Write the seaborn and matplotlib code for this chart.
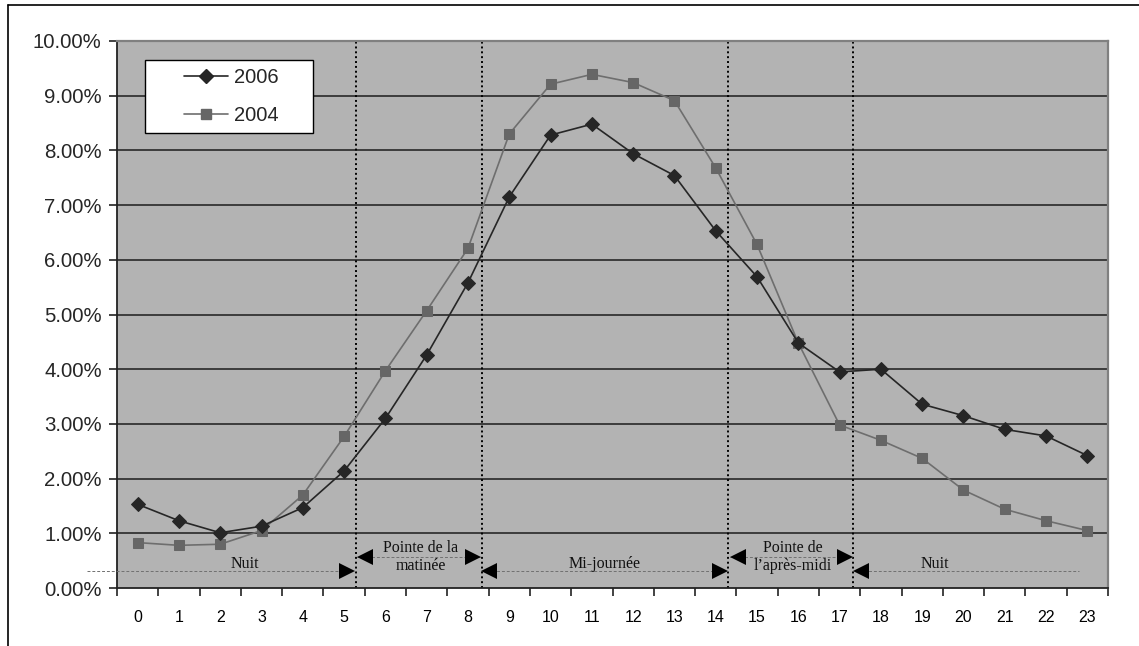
import matplotlib
matplotlib.use("Agg")
import matplotlib.pyplot as plt
from matplotlib.lines import Line2D
from matplotlib.patches import Rectangle
import numpy as np
import pandas as pd
import seaborn as sns

hours = list(range(24))
hour_labels = [str(h) for h in hours]
y2006 = [1.53, 1.23, 1.01, 1.13, 1.47, 2.14, 3.10, 4.26, 5.58, 7.15, 8.28, 8.48,
         7.94, 7.54, 6.53, 5.69, 4.48, 3.95, 4.00, 3.36, 3.15, 2.90, 2.78, 2.42]
y2004 = [0.83, 0.78, 0.80, 1.05, 1.70, 2.77, 3.97, 5.07, 6.21, 8.30, 9.21, 9.39,
         9.24, 8.91, 7.68, 6.28, 4.48, 2.98, 2.70, 2.37, 1.79, 1.44, 1.23, 1.05]
yticks = [0, 1, 2, 3, 4, 5, 6, 7, 8, 9, 10]
ytick_labels = [f"{v:.2f}%" for v in yticks]
period_bounds = [5.3, 8.33, 14.3, 17.32]

sns.set_theme(style="white")
plt.rcParams['font.family'] = ['Liberation Sans', 'DejaVu Sans']

W, H = 1139, 646
fig = plt.figure(figsize=(W / 100, H / 100), dpi=100)
ax = fig.add_axes([117 / W, (H - 588) / H, (1108 - 117) / W, (588 - 41) / H])
ax.set_facecolor('#b3b3b3')

df = pd.DataFrame({'hour': hours * 2,
                   'val': y2006 + y2004,
                   'year': ['2006'] * 24 + ['2004'] * 24})

c06, c04 = '#262626', '#6e6e6e'
sns.lineplot(data=df[df.year == '2006'], x='hour', y='val', ax=ax, color=c06,
             marker='D', markersize=7.3, markeredgecolor=c06, linewidth=1.2,
             zorder=5, legend=False)
sns.lineplot(data=df[df.year == '2004'], x='hour', y='val', ax=ax, color=c04,
             marker='s', markersize=7, markeredgecolor='#666666',
             markerfacecolor='#666666', linewidth=1.2, zorder=4, legend=False)

ax.set_xlim(-0.5, 23.5)
ax.set_ylim(0, 10)
ax.set_xlabel('')
ax.set_ylabel('')

# horizontal gridlines
for v in yticks[1:-1]:
    ax.axhline(v, color='#333333', lw=1.3, zorder=1)

# period separators
for b in period_bounds:
    ax.axvline(b, color='black', lw=1.4, ls=(0, (1, 1.5)), zorder=2)

# ticks
ax.set_yticks(yticks)
ax.set_yticklabels(ytick_labels, fontsize=14.7)
ax.set_xticks(hours)
ax.set_xticklabels(hour_labels, fontsize=11.5)
ax.set_xticks(np.arange(-0.5, 24, 1), minor=True)
ax.tick_params(axis='x', which='major', length=0, pad=16, colors='black')
ax.tick_params(axis='x', which='minor', length=6, width=1.2, color='#222222',
               direction='out', bottom=True)
ax.tick_params(axis='y', which='major', length=6, width=1.2, color='#222222',
               direction='out', left=True, pad=5)

for s in ['left', 'bottom']:
    ax.spines[s].set_color('#222222')
    ax.spines[s].set_linewidth(1.3)
for s in ['top', 'right']:
    ax.spines[s].set_color('#808080')
    ax.spines[s].set_linewidth(1.6)

# period annotations
tri = 11
half = 0.18
serif = ['Liberation Serif', 'DejaVu Serif']
tfs = 11.5
dash_kw = dict(color='#707070', lw=0.7, ls=(0, (3, 2)), zorder=3, clip_on=False)

def arrow_pair(x0, x1, y, left=True, right=True):
    ax.plot([x0, x1], [y, y], **dash_kw)
    if left:
        ax.plot([x0 + half], [y], marker='<', ms=tri, color='black', mew=0,
                zorder=6, clip_on=False)
    if right:
        ax.plot([x1 - half], [y], marker='>', ms=tri, color='black', mew=0,
                zorder=6, clip_on=False)

y_low, y_high = 0.31, 0.57
tkw = dict(family=serif, fontsize=tfs, ha='center', va='center', color='#111111')
# Nuit (left)
arrow_pair(-1.23, 5.26, y_low, left=False)
ax.text(2.6, 0.44, 'Nuit', **tkw)
# Pointe de la matinée
arrow_pair(5.32, 8.29, y_high)
ax.text(6.86, 0.735, 'Pointe de la', **tkw)
ax.text(6.86, 0.40, 'matinée', **tkw)
# Mi-journée
arrow_pair(8.33, 14.29, y_low)
ax.text(11.3, 0.44, 'Mi-journée', **tkw)
# Pointe de l'après-midi
arrow_pair(14.35, 17.31, y_high)
ax.text(15.87, 0.735, 'Pointe de', **tkw)
ax.text(15.87, 0.40, 'l\u2019après-midi', **tkw)
# Nuit (right)
arrow_pair(17.34, 22.8, y_low, right=False)
ax.text(19.31, 0.44, 'Nuit', **tkw)

# legend box
ax.add_patch(Rectangle(((145 - 117) / 991, (588 - 133) / 547), 168 / 991, 73 / 547,
                       transform=ax.transAxes, facecolor='white', edgecolor='black',
                       lw=1.0, zorder=8))
handles = [Line2D([], [], color=c06, marker='D', markersize=7.3, lw=1.2),
           Line2D([], [], color=c04, marker='s', markersize=7, lw=1.2,
                  markerfacecolor='#666666', markeredgecolor='#666666')]
leg = ax.legend(handles, ['2006', '2004'], loc='upper left',
                bbox_to_anchor=((184 - 117) / 991, (588 - 68) / 547),
                frameon=False, fontsize=14.5, handlelength=2.2, handletextpad=0.3,
                borderpad=0, borderaxespad=0, labelspacing=0.95)
leg.set_zorder(9)

# outer frame (top and left edges)
fig.add_artist(Line2D([8 / W, 1.0], [(H - 5) / H, (H - 5) / H], color='black', lw=1.2))
fig.add_artist(Line2D([8 / W, 8 / W], [0, (H - 5) / H], color='black', lw=1.2))

fig.savefig('out.png', dpi=100, facecolor='white')
